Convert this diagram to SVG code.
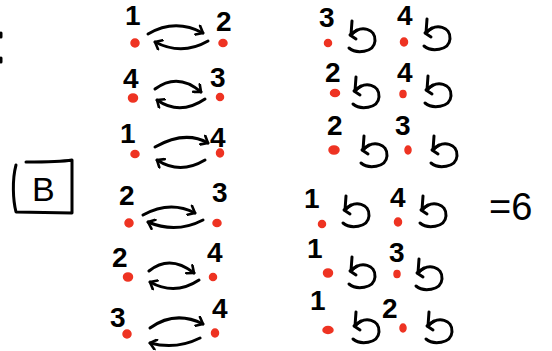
<svg xmlns="http://www.w3.org/2000/svg" width="552" height="351" viewBox="0 0 552 351">
<style>
.n{font-family:"Liberation Sans","DejaVu Sans",sans-serif;font-size:28px;font-weight:bold;fill:#000;}
.d{fill:#ee3322;stroke:#ee3322;stroke-width:1.5;}
.s{fill:none;stroke:#000;stroke-width:3;stroke-linecap:round;stroke-linejoin:round;}
</style>
<defs>
<marker id="ah" markerWidth="12" markerHeight="12" refX="0" refY="0" viewBox="-8 -6 10 12" orient="auto" markerUnits="userSpaceOnUse">
<path d="M-6,-5 L0,0 L-6,5" fill="none" stroke="#000" stroke-width="2.6" stroke-linecap="round" stroke-linejoin="round"/>
</marker>
<g id="loop">
<path class="s" d="M-7,-15 L-8,-1 C2,-12 17,-7 16,5 C15,17 -3,18 -10,12"/>
<path class="s" d="M-2,-6 L-9,-1 L-3,3"/>
</g>
</defs>
<rect width="552" height="351" fill="#fff"/>
<path class="s" d="M1,33 L1,37 M1,58 L1,62" stroke-width="2"/>
<g id="B">
<path class="s" d="M16,165 C12,180 13,200 16,212 L72,213 L72,160 C60,162 40,162 26,162"/>
<text class="n" x="32" y="201" style="font-size:34px;font-weight:normal">B</text>
</g>
<g id="eq6"><text class="n" x="489" y="220" style="font-size:38px;font-weight:normal">=6</text></g>
<g id="left-nodes">
<g id="l1a"><text class="n" x="125" y="25">1</text><ellipse class="d" cx="135" cy="43" rx="4" ry="4"/></g>
<g id="l1b"><text class="n" x="216" y="31">2</text><ellipse class="d" cx="223" cy="43" rx="4" ry="3.5"/></g>
<g id="l2a"><text class="n" x="123" y="88">4</text><ellipse class="d" cx="133" cy="98" rx="4.5" ry="4"/></g>
<g id="l2b"><text class="n" x="210" y="87">3</text><ellipse class="d" cx="220" cy="97" rx="3.5" ry="3.5"/></g>
<g id="l3a"><text class="n" x="120" y="143">1</text><ellipse class="d" cx="135" cy="154" rx="4" ry="3.5"/></g>
<g id="l3b"><text class="n" x="210" y="147">4</text><ellipse class="d" cx="220" cy="153" rx="3.5" ry="4"/></g>
<g id="l4a"><text class="n" x="119" y="205">2</text><ellipse class="d" cx="129" cy="223" rx="4" ry="4"/></g>
<g id="l4b"><text class="n" x="212" y="202">3</text><ellipse class="d" cx="217" cy="223" rx="4" ry="3.5"/></g>
<g id="l5a"><text class="n" x="112" y="267">2</text><ellipse class="d" cx="128" cy="277" rx="4.5" ry="4"/></g>
<g id="l5b"><text class="n" x="207" y="262">4</text><ellipse class="d" cx="213" cy="277" rx="3.5" ry="3.5"/></g>
<g id="l6a"><text class="n" x="110" y="327">3</text><ellipse class="d" cx="127" cy="334" rx="4" ry="4"/></g>
<g id="l6b"><text class="n" x="212" y="318">4</text><ellipse class="d" cx="215" cy="333" rx="3.5" ry="4"/></g>
</g>
<g id="connectors" class="s">
<path class="s" marker-end="url(#ah)" d="M148,34 Q175,18 203,33"/>
<path class="s" marker-end="url(#ah)" d="M208,41 Q182,56 155,42"/>
<path class="s" marker-end="url(#ah)" d="M155,89 Q178,72 201,92"/>
<path class="s" marker-end="url(#ah)" d="M205,99 Q180,116 157,100"/>
<path class="s" marker-end="url(#ah)" d="M155,147 Q185,130 208,143"/>
<path class="s" marker-end="url(#ah)" d="M205,160 Q180,175 157,160"/>
<path class="s" marker-end="url(#ah)" d="M143,215 Q170,200 195,213"/>
<path class="s" marker-end="url(#ah)" d="M203,220 Q176,234 148,222"/>
<path class="s" marker-end="url(#ah)" d="M149,271 Q170,254 194,273"/>
<path class="s" marker-end="url(#ah)" d="M199,280 Q175,296 150,282"/>
<path class="s" marker-end="url(#ah)" d="M150,328 Q175,310 203,324"/>
<path class="s" marker-end="url(#ah)" d="M200,338 Q176,350 150,343"/>
</g>
<g id="right-nodes">
<g id="r1a"><text class="n" x="319" y="27">3</text><ellipse class="d" cx="328" cy="43" rx="3.5" ry="3.5"/><use href="#loop" x="359" y="36"/></g>
<g id="r1b"><text class="n" x="397" y="25">4</text><ellipse class="d" cx="404" cy="42" rx="3.5" ry="4"/><use href="#loop" x="434" y="34"/></g>
<g id="r2a"><text class="n" x="325" y="82">2</text><ellipse class="d" cx="335" cy="93" rx="4.5" ry="3.5"/><use href="#loop" x="363" y="92"/></g>
<g id="r2b"><text class="n" x="397" y="82">4</text><ellipse class="d" cx="403" cy="94" rx="3" ry="3.5"/><use href="#loop" x="435" y="91"/></g>
<g id="r3a"><text class="n" x="327" y="135">2</text><ellipse class="d" cx="334" cy="150" rx="5" ry="4"/><use href="#loop" x="371" y="151"/></g>
<g id="r3b"><text class="n" x="395" y="135">3</text><ellipse class="d" cx="408" cy="150" rx="3" ry="4"/><use href="#loop" x="441" y="151"/></g>
<g id="r4a"><text class="n" x="304" y="208">1</text><ellipse class="d" cx="322" cy="224" rx="3.5" ry="3.5"/><use href="#loop" x="353" y="211"/></g>
<g id="r4b"><text class="n" x="390" y="207">4</text><ellipse class="d" cx="398" cy="222" rx="3.5" ry="4"/><use href="#loop" x="430" y="211"/></g>
<g id="r5a"><text class="n" x="307" y="258">1</text><ellipse class="d" cx="328" cy="273" rx="4.5" ry="4"/><use href="#loop" x="359" y="272"/></g>
<g id="r5b"><text class="n" x="389" y="262">3</text><ellipse class="d" cx="397" cy="274" rx="3" ry="3.5"/><use href="#loop" x="426" y="274"/></g>
<g id="r6a"><text class="n" x="310" y="310">1</text><ellipse class="d" cx="328" cy="330" rx="5" ry="3.5"/><use href="#loop" x="363" y="327"/></g>
<g id="r6b"><text class="n" x="382" y="318">2</text><ellipse class="d" cx="403" cy="328" rx="3" ry="4"/><use href="#loop" x="436" y="327"/></g>
</g>
</svg>
